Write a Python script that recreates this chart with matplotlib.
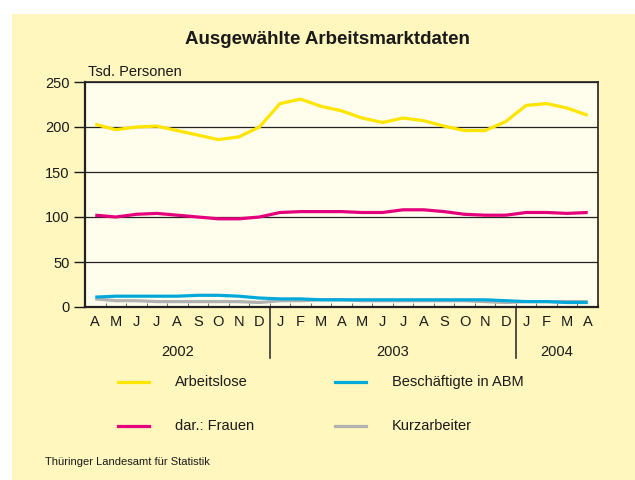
import numpy as np
import matplotlib
matplotlib.use("Agg")
import matplotlib.pyplot as plt
import matplotlib.transforms as mtransforms
from matplotlib.patches import Rectangle

plt.rcParams['font.family'] = ['Liberation Sans', 'DejaVu Sans']

# monthly values, April 2002 .. April 2004 (Tsd. Personen)
months = ['A', 'M', 'J', 'J', 'A', 'S', 'O', 'N', 'D',
          'J', 'F', 'M', 'A', 'M', 'J', 'J', 'A', 'S', 'O', 'N', 'D',
          'J', 'F', 'M', 'A']
years = ['2002', '2003', '2004']
year_start = [0, 9, 21]

arbeitslose = [203, 197, 200, 201, 196, 191, 186, 189, 200,
               226, 231, 223, 218, 210, 205, 210, 207, 201, 196, 196, 206,
               224, 226, 221, 213]
frauen = [102, 100, 103, 104, 102, 100, 98, 98, 100,
          105, 106, 106, 106, 105, 105, 108, 108, 106, 103, 102, 102,
          105, 105, 104, 105]
abm = [11, 12, 12, 12, 12, 13, 13, 12, 10,
       9, 9, 8, 8, 8, 8, 8, 8, 8, 8, 8, 7,
       6, 6, 5, 5]
kurzarbeiter = [9, 7, 7, 6, 6, 6, 6, 6, 5,
                7, 7, 8, 8, 7, 7, 7, 7, 7, 7, 6, 5,
                6, 6, 6, 6]

series = [('Arbeitslose', arbeitslose, '#FFE500'),
          ('dar.: Frauen', frauen, '#E4007C'),
          ('Beschäftigte in ABM', abm, '#00A9DA'),
          ('Kurzarbeiter', kurzarbeiter, '#B2B2B2')]

bg = '#FFF7BE'
W, H = 635, 480
fig = plt.figure(figsize=(W / 100, H / 100), dpi=100, facecolor='white')
# pale yellow panel, white margin on the top and left
fig.patches.append(Rectangle((12 / W, 0), 1 - 12 / W, 1 - 14 / H,
                             transform=fig.transFigure, facecolor=bg,
                             edgecolor='none', zorder=-10))

ax = fig.add_axes([85 / W, 1 - 307 / H, 513 / W, 225 / H])
ax.set_facecolor('#FFFDEC')

x = np.arange(len(months))
# draw grey/blue first so the big lines sit on top
for name, vals, col in series[::-1]:
    ax.plot(x, vals, color=col, lw=2.3, solid_capstyle='butt', zorder=3)

ax.set_xlim(-0.5, len(months) - 0.5)
ax.set_ylim(0, 250)
ax.set_yticks([0, 50, 100, 150, 200, 250])
ax.yaxis.grid(True, color='#222222', lw=0.9)
ax.set_axisbelow(True)
ax.tick_params(axis='y', direction='out', length=8, width=1, labelsize=10.5,
               pad=3, colors='#1a1a1a')

ax.set_xticks(x)
ax.set_xticklabels(months)
ax.set_xticks(np.arange(-0.5, len(months)), minor=True)
ax.tick_params(axis='x', which='major', length=0, labelsize=10.5, pad=6,
               colors='#1a1a1a')
ax.tick_params(axis='x', which='minor', direction='in', length=3, width=0.6,
               color='#555555')

for sp in ax.spines.values():
    sp.set_color('#222222')
    sp.set_linewidth(1.2)
ax.spines['left'].set_linewidth(1.6)
ax.spines['bottom'].set_linewidth(1.6)

# year separators and year labels under the month letters
trans = mtransforms.blended_transform_factory(ax.transData, ax.transAxes)
for s in year_start[1:]:
    ax.plot([s - 0.5, s - 0.5], [0, -0.225], color='#333333', lw=1.2,
            transform=trans, clip_on=False)
ends = year_start[1:] + [len(months)]
for yr, s, e in zip(years, year_start, ends):
    ax.text((s + e - 1) / 2, -0.2, yr, transform=trans, ha='center',
            va='center', fontsize=10.5, color='#1a1a1a')

fig.text(88 / W, 1 - 72 / H, 'Tsd. Personen', fontsize=10.5, va='center',
         ha='left', color='#1a1a1a')
fig.text(327 / W, 1 - 40 / H, 'Ausgewählte Arbeitsmarktdaten', fontsize=13.5,
         fontweight='bold', ha='center', va='center', color='#1a1a1a')

# legend, hand placed in two columns
leg_pos = [(118, 382), (118, 426), (335, 382), (335, 426)]
for (name, vals, col), (lx, ly) in zip(series, leg_pos):
    fig.add_artist(plt.Line2D([lx / W, (lx + 31) / W], [1 - ly / H, 1 - ly / H],
                              color=col, lw=2.3, transform=fig.transFigure))
    fig.text((lx + 57) / W, 1 - ly / H, name, fontsize=10.5, va='center',
             ha='left', color='#1a1a1a')

fig.text(45 / W, 1 - 462 / H, 'Thüringer Landesamt für Statistik', fontsize=8,
         va='center', ha='left', color='#1a1a1a')

fig.savefig('out.png', dpi=100, facecolor=fig.get_facecolor())
